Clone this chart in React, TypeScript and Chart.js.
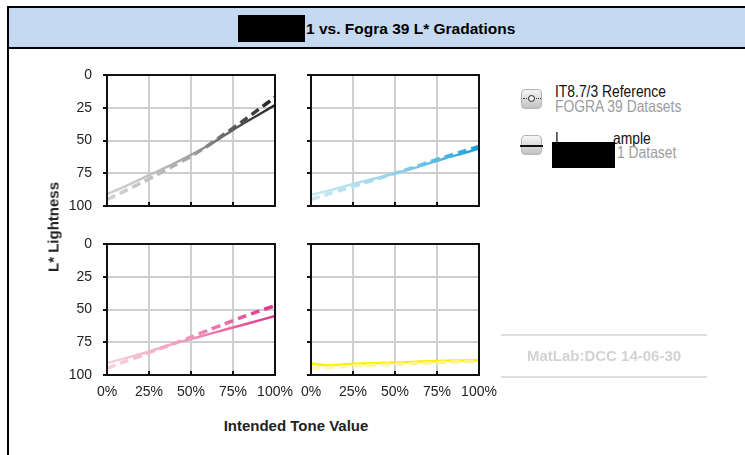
import React, { useEffect, useRef } from "react";
import { Chart, registerables } from "chart.js";

Chart.register(...registerables);

// ---- data ----
const toneValues = [0, 10, 20, 30, 40, 50, 60, 70, 80, 90, 100];
const xTickValues = [0, 25, 50, 75, 100];
const xTickLabels = ["0%", "25%", "50%", "75%", "100%"];
const yTickValues = [0, 25, 50, 75, 100];
const yTickLabels = ["0", "25", "50", "75", "100"];

const blackSample = [91, 85.5, 79.5, 73.5, 67.5, 61, 54, 46, 38, 30.5, 23];
const blackFogra = [95, 89, 82.5, 76, 69, 62, 54, 45, 36, 26.5, 17];
const cyanSample = [91.5, 88.5, 85, 81.5, 78.5, 75, 71.5, 67.5, 63.5, 60, 56];
const cyanFogra = [95, 91, 87, 83, 79, 75, 71, 66.5, 62.5, 58.5, 54.5];
const magentaSample = [91, 87.5, 84, 80, 76, 72.5, 69, 65.5, 62, 58.5, 55];
const magentaFogra = [95, 90, 85.5, 80.5, 76, 71, 66, 61, 56, 51.5, 47];
const yellowSample = [91.3, 92.5, 91.8, 91.2, 90.8, 90.5, 90, 89.5, 89.1, 88.9, 88.7];
const yellowFogra = [94.9, 94.3, 93.6, 92.8, 92.3, 91.8, 91.3, 90.8, 90.3, 89.9, 89.7];

// ---- layout / styles ----
const FONT = '"Liberation Sans", Arial, Helvetica, sans-serif';
const PW = 168;
const PH = 131;
const YW = 50;
const PT = 12;
const PR = 25;
const XH = 35;

type PanelCfg = {
  sample: number[];
  fogra: number[];
  sampleColors: string[];
  fograColors: string[];
  left: number;
  top: number;
  showX: boolean;
  showY: boolean;
};

const grayStops = ["#d2d2d2", "#c2c2c2", "#a4a4a4", "#5a5a5a", "#1e1e1e"];
const cyanStops = ["#c8e9f3", "#b4e0ef", "#92d2ea", "#55bbe3", "#17a0da"];
const magentaStops = ["#f8d2e1", "#f4b6cd", "#ee93b8", "#e664a2", "#e0328a"];

const panels: PanelCfg[] = [
  { sample: blackSample, fogra: blackFogra, sampleColors: grayStops, fograColors: grayStops, left: 107, top: 75, showX: false, showY: true },
  { sample: cyanSample, fogra: cyanFogra, sampleColors: cyanStops, fograColors: cyanStops, left: 311, top: 75, showX: false, showY: false },
  { sample: magentaSample, fogra: magentaFogra, sampleColors: magentaStops, fograColors: magentaStops, left: 107, top: 244, showX: true, showY: true },
  { sample: yellowSample, fogra: yellowFogra, sampleColors: ["#fff000", "#fff000"], fograColors: ["#fff7b0", "#fff28a"], left: 311, top: 244, showX: true, showY: false },
];

const framePlugin = {
  id: "frame",
  afterDraw(chart: any) {
    const { ctx, chartArea: a } = chart;
    ctx.save();
    ctx.strokeStyle = "#111";
    ctx.lineWidth = 2;
    ctx.strokeRect(a.left, a.top, a.right - a.left, a.bottom - a.top);
    const xs = chart.scales.x;
    for (const v of xTickValues.slice(1, -1)) {
      const px = Math.round(xs.getPixelForValue(v));
      ctx.beginPath();
      ctx.moveTo(px, a.bottom);
      ctx.lineTo(px, a.bottom - 4);
      ctx.stroke();
    }
    ctx.restore();
  },
};

function Panel({ cfg }: { cfg: PanelCfg }) {
  const ref = useRef<HTMLCanvasElement>(null);
  useEffect(() => {
    const grad = (stops: string[]) => (ctx: any) => {
      const chart = ctx.chart;
      const a = chart.chartArea;
      if (!a) return stops[stops.length - 1];
      const g = chart.ctx.createLinearGradient(a.left, 0, a.right, 0);
      stops.forEach((c, i) => g.addColorStop(i / (stops.length - 1), c));
      return g;
    };
    const chart = new Chart(ref.current as HTMLCanvasElement, {
      type: "line",
      data: {
        datasets: [
          {
            label: "FOGRA 39",
            data: toneValues.map((x, i) => ({ x, y: cfg.fogra[i] })),
            borderColor: grad(cfg.fograColors),
            borderWidth: 3.5,
            borderDash: [9, 5],
            pointRadius: 0,
            tension: 0.3,
            fill: false,
          },
          {
            label: "Sample",
            data: toneValues.map((x, i) => ({ x, y: cfg.sample[i] })),
            borderColor: grad(cfg.sampleColors),
            borderWidth: 2.5,
            pointRadius: 0,
            tension: 0.3,
            fill: false,
          },
        ],
      } as any,
      options: {
        animation: false,
        responsive: false,
        maintainAspectRatio: false,
        devicePixelRatio: 1,
        layout: { padding: { left: 0, top: PT, right: PR, bottom: 0 } },
        plugins: { legend: { display: false }, tooltip: { enabled: false } },
        scales: {
          x: {
            type: "linear",
            min: 0,
            max: 100,
            afterBuildTicks: (s: any) => {
              s.ticks = xTickValues.map((v) => ({ value: v }));
            },
            ticks: {
              display: cfg.showX,
              callback: (_v: any, i: number) => xTickLabels[i],
              font: { family: FONT, size: 14 },
              color: "#222",
              padding: 9,
              maxRotation: 0,
            },
            grid: { color: "#cfcfcf", lineWidth: 2, drawTicks: false },
            border: { display: false },
            afterFit: (s: any) => {
              s.height = XH;
              s.paddingLeft = 0;
              s.paddingRight = 0;
            },
          },
          y: {
            type: "linear",
            min: 0,
            max: 100,
            reverse: true,
            afterBuildTicks: (s: any) => {
              s.ticks = yTickValues.map((v) => ({ value: v }));
            },
            ticks: {
              display: cfg.showY,
              callback: (_v: any, i: number) => yTickLabels[i],
              font: { family: FONT, size: 14 },
              color: "#222",
              padding: 11,
            },
            grid: { color: "#cfcfcf", lineWidth: 2, drawTicks: true, tickLength: 4, tickColor: "#111" },
            border: { display: false },
            afterFit: (s: any) => {
              s.width = YW;
              s.paddingTop = 0;
              s.paddingBottom = 0;
            },
          },
        },
      } as any,
      plugins: [framePlugin],
    });
    return () => chart.destroy();
  }, [cfg]);
  return (
    <canvas
      ref={ref}
      width={YW + PW + PR}
      height={PT + PH + XH}
      style={{ position: "absolute", left: cfg.left - YW, top: cfg.top - PT, width: YW + PW + PR, height: PT + PH + XH }}
    />
  );
}

const legendText: React.CSSProperties = {
  position: "absolute",
  fontFamily: FONT,
  fontSize: 16.5,
  lineHeight: "16px",
  whiteSpace: "nowrap",
  transform: "scaleX(0.84)",
  transformOrigin: "left top",
};

const iconBox: React.CSSProperties = {
  position: "absolute",
  width: 19,
  height: 18,
  borderRadius: 4,
  border: "1px solid #b4b4b4",
  background: "linear-gradient(#f6f6f6, #c2c2c2)",
};

export default function App() {
  return (
    <div style={{ position: "absolute", left: 0, top: 0, width: 745, height: 455, overflow: "hidden", background: "#fff", fontFamily: FONT }}>
      {/* title bar */}
      <div style={{ position: "absolute", left: 7, top: 6, width: 760, height: 39, background: "#c5d9f1", borderTop: "2px solid #000", borderLeft: "2px solid #000", borderBottom: "2px solid #000" }} />
      <div style={{ position: "absolute", left: 7, top: 49, width: 2, height: 410, background: "#000" }} />
      <div style={{ position: "absolute", left: 238, top: 15, width: 67, height: 27, background: "#000" }} />
      <div style={{ position: "absolute", left: 306, top: 20, fontSize: 15.5, fontWeight: "bold", lineHeight: "18px", whiteSpace: "nowrap", color: "#000" }}>
        1 vs. Fogra 39 L* Gradations
      </div>

      {panels.map((p, i) => (
        <Panel key={i} cfg={p} />
      ))}

      {/* axis titles */}
      <div style={{ position: "absolute", left: 53, top: 227, transform: "translate(-50%, -50%) rotate(-90deg)", fontSize: 15, fontWeight: "bold", lineHeight: "15px", whiteSpace: "nowrap", color: "#222" }}>
        L* Lightness
      </div>
      <div style={{ position: "absolute", left: 296, top: 418, transform: "translateX(-50%)", fontSize: 15, fontWeight: "bold", lineHeight: "15px", whiteSpace: "nowrap", color: "#222" }}>
        Intended Tone Value
      </div>

      {/* legend */}
      <div style={{ ...iconBox, left: 521, top: 89 }} />
      <div style={{ position: "absolute", left: 523, top: 98, width: 18, height: 0, borderTop: "1px dotted #333" }} />
      <div style={{ position: "absolute", left: 528, top: 95, width: 5, height: 5, borderRadius: "50%", border: "1.3px solid #222", background: "#f0f0f0" }} />
      <div style={{ ...legendText, left: 555, top: 83, color: "#111" }}>IT8.7/3 Reference</div>
      <div style={{ ...legendText, left: 555, top: 98, color: "#9c9c9c" }}>FOGRA 39 Datasets</div>

      <div style={{ ...iconBox, left: 521, top: 135 }} />
      <div style={{ position: "absolute", left: 520, top: 145, width: 23, height: 2, background: "#111" }} />
      <div style={{ ...legendText, left: 555, top: 130, color: "#111" }}>I</div>
      <div style={{ ...legendText, left: 613, top: 130, color: "#111" }}>ample</div>
      <div style={{ ...legendText, left: 617, top: 144, color: "#9c9c9c" }}>1 Dataset</div>
      <div style={{ position: "absolute", left: 552, top: 142, width: 63, height: 26, background: "#000" }} />

      {/* watermark */}
      <div style={{ position: "absolute", left: 501, top: 334, width: 206, height: 2, background: "#dedede" }} />
      <div style={{ position: "absolute", left: 501, top: 376, width: 206, height: 2, background: "#dedede" }} />
      <div style={{ position: "absolute", left: 604, top: 348, transform: "translateX(-50%)", fontSize: 15, fontWeight: "bold", lineHeight: "16px", whiteSpace: "nowrap", color: "#d2d2d2" }}>
        MatLab:DCC 14-06-30
      </div>
    </div>
  );
}
